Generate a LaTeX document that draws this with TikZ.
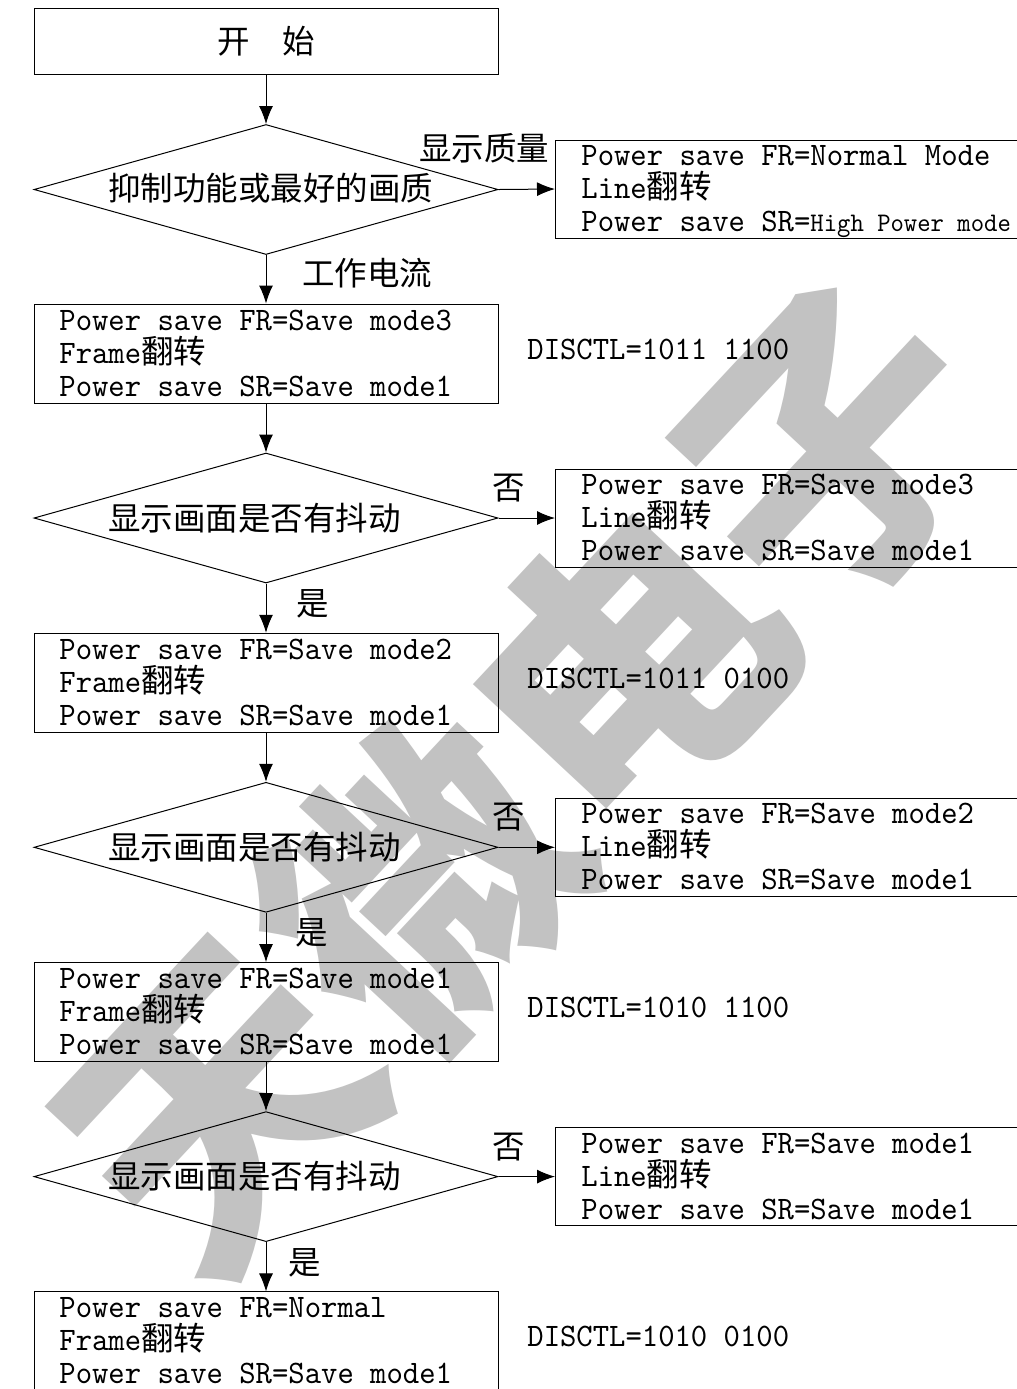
\documentclass[tikz,border=0pt]{standalone}
\usepackage{fontspec}
\usetikzlibrary{shapes.geometric,arrows.meta}
\newfontfamily\cjkf{Noto Sans CJK SC}
\newfontfamily\monof{lmmono10-regular.otf}[FakeStretch=0.95]
\newcommand{\myZh}{\cjkf\fontsize{16.25pt}{18pt}\selectfont}
\newcommand{\myLat}{\monof\fontsize{16.4pt}{19pt}\selectfont}
\newcommand{\mySm}{\monof\fontsize{13.4pt}{16pt}\selectfont}
\newcommand{\myWm}{\cjkf\bfseries\fontsize{150pt}{150pt}\selectfont}
\begin{document}
\begin{tikzpicture}[x=0.5pt,y=-0.5pt,
  box/.style={draw, line width=0.5pt, inner sep=0pt, minimum width=232pt, minimum height=49.5pt},
  rbox/.style={draw, line width=0.5pt, inner sep=0pt, minimum width=260pt, minimum height=49pt, anchor=west},
  dia/.style={draw, diamond, line width=0.5pt, inner sep=0pt, minimum width=232pt, minimum height=65pt},
  ln/.style={anchor=west, inner sep=0pt, text height=9.5pt, text depth=0pt, font=\myLat},
  zhlab/.style={inner sep=0pt, font=\myZh},
  arr/.style={line width=0.5pt, -{Latex[length=9pt,width=7pt]}}]
\useasboundingbox (0,0) rectangle (1017,1389);
\clip (0,0) rectangle (1017,1389);
\fill[white] (0,0) rectangle (1017,1389);
% watermark
\node[rotate=47, text=gray!48, font=\myWm, inner sep=0pt] (wm) at (525,775) {天微电子};
% start
\node[box, minimum height=33pt, font=\myZh] (start) at (266,41) {开\hspace{1em}始};
% first decision
\node[dia] (dq) at (266,189.5) {};
\node[zhlab, anchor=west] (dqt) at (108,188) {抑制功能或最好的画质};
\node[rbox] (rq) at (555,189) {};
\node[ln] (rq1) at (581,156) {Power save FR=Normal Mode};
\node[ln] (rq2) at (581,189) {Line{\myZh 翻转}};
\node[ln] (rq3) at (581,222) {Power save SR={\mySm High Power mode}};
\node[zhlab] (lq1) at (484,148) {显示质量};
\node[zhlab] (lq2) at (367,273) {工作电流};
\draw[arr] (start.south) -- (dq.north);
\draw[arr] (dq.east) -- (rq.west);
% stages
\foreach \k/\fr/\disc in {0/Save mode3/1011 1100, 1/Save mode2/1011 0100, 2/Save mode1/1010 1100, 3/Normal/1010 0100}{
  \pgfmathsetmacro\yy{353.5+329.3*\k}
  \node[box] (b\k) at (266,\yy) {};
  \node[ln] (b\k a) at (59,\yy-33) {Power save FR=\fr};
  \node[ln] (b\k b) at (59,\yy) {Frame{\myZh 翻转}};
  \node[ln] (b\k c) at (59,\yy+33) {Power save SR=Save mode1};
  \node[ln] (disc\k) at (527,\yy-4) {DISCTL=\disc};
}
\foreach \k/\fr/\sx in {0/Save mode3/313, 1/Save mode2/312, 2/Save mode1/305}{
  \pgfmathsetmacro\yy{518+329.3*\k}
  \node[dia] (d\k) at (266,\yy) {};
  \node[zhlab, anchor=west] (d\k t) at (108,\yy) {显示画面是否有抖动};
  \node[rbox] (r\k) at (555,\yy) {};
  \node[ln] (r\k a) at (581,\yy-33) {Power save FR=\fr};
  \node[ln] (r\k b) at (581,\yy) {Line{\myZh 翻转}};
  \node[ln] (r\k c) at (581,\yy+33) {Power save SR=Save mode1};
  \node[zhlab] (no\k) at (509,\yy-30) {否};
  \node[zhlab] (yes\k) at (\sx,\yy+86) {是};
  \draw[arr] (d\k.east) -- (r\k.west);
}
\draw[arr] (dq.south) -- (b0.north);
\draw[arr] (b0.south) -- (d0.north);
\draw[arr] (d0.south) -- (b1.north);
\draw[arr] (b1.south) -- (d1.north);
\draw[arr] (d1.south) -- (b2.north);
\draw[arr] (b2.south) -- (d2.north);
\draw[arr] (d2.south) -- (b3.north);
\end{tikzpicture}
\end{document}
